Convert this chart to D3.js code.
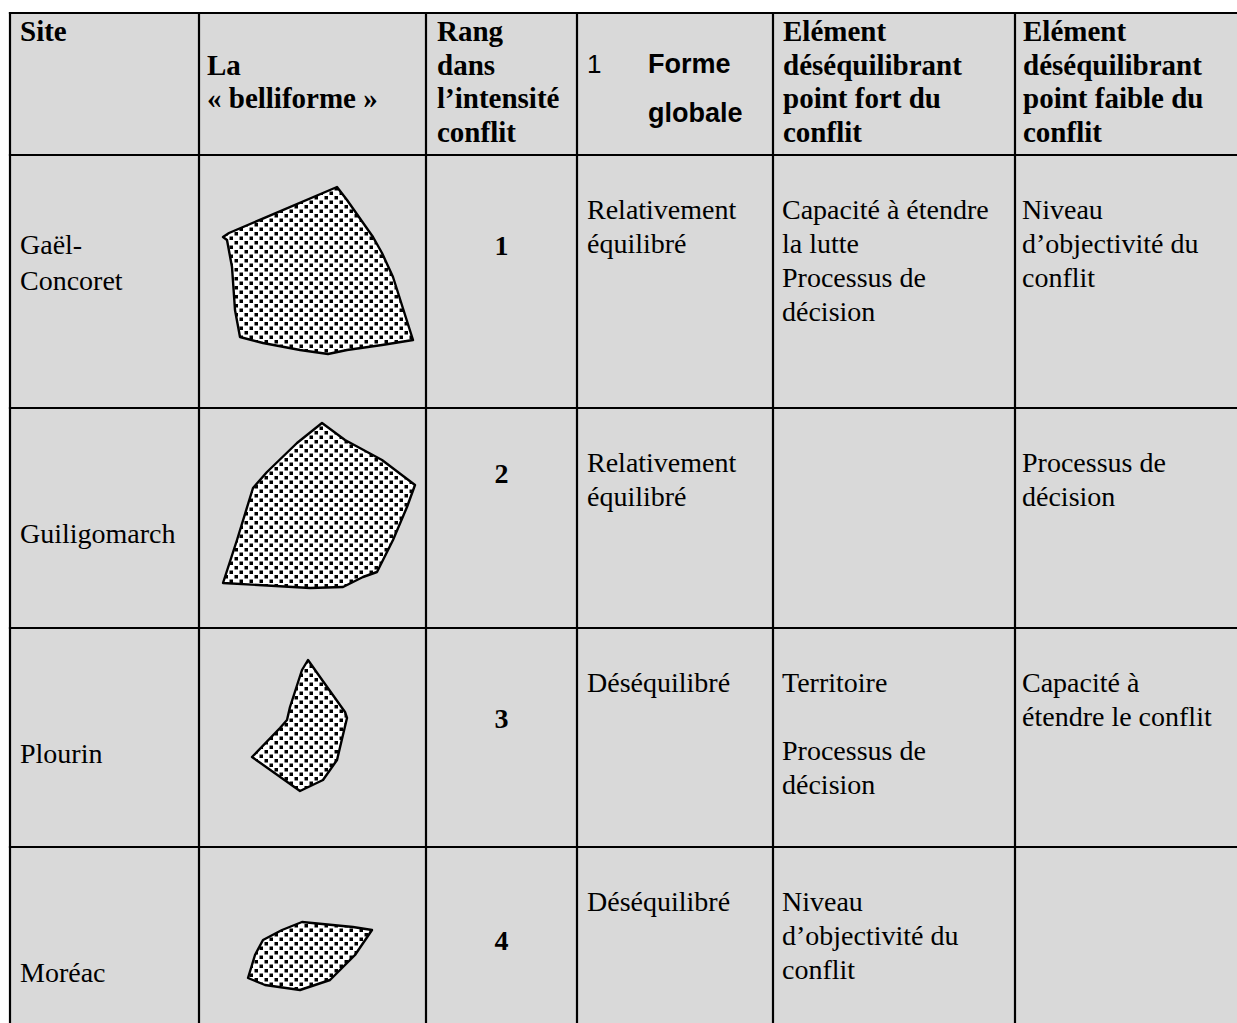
<!DOCTYPE html>
<html><head><meta charset="utf-8">
<script src="https://cdn.jsdelivr.net/npm/d3@7"></script>
<style>html,body{margin:0;padding:0;background:#fff;overflow:hidden}</style>
</head><body>
<script>
// ---- data ----
const headers = [
  ["Site"],
  ["", "La", "« belliforme »"],
  ["Rang", "dans", "l’intensité", "conflit"],
  null,
  ["Elément", "déséquilibrant", "point fort du", "conflit"],
  ["Elément", "déséquilibrant", "point faible du", "conflit"]
];
const formeHeaderNum = "1";
const formeHeader = ["Forme", "globale"];
const sites = [["Gaël-", "Concoret"], ["Guiligomarch"], ["Plourin"], ["Moréac"]];
const ranks = ["1", "2", "3", "4"];
const formes = [["Relativement", "équilibré"], ["Relativement", "équilibré"], ["Déséquilibré"], ["Déséquilibré"]];
const pointsForts = [["Capacité à étendre", "la lutte", "Processus de", "décision"], [], ["Territoire", "", "Processus de", "décision"], ["Niveau", "d’objectivité du", "conflit"]];
const pointsFaibles = [["Niveau", "d’objectivité du", "conflit"], ["Processus de", "décision"], ["Capacité à", "étendre le conflit"], []];
// belliforme outlines (cell-relative coordinates)
const shapes = [
  [[24,82],[30,78],[138,32],[148,45],[174,82],[183,98],[194,122],[214,185],[183,190],[148,195],[129,199],[101,195],[64,188],[41,182],[36,155],[33,112],[28,85]],
  [[123,15],[146,32],[183,52],[216,77],[208,99],[194,132],[178,164],[164,169],[144,179],[111,180],[24,175],[38,132],[54,80],[68,64],[98,35]],
  [[109,32],[121,49],[146,84],[148,90],[138,132],[124,152],[101,163],[53,129],[81,100],[88,92],[91,79],[103,42]],
  [[103,75],[154,80],[173,83],[156,108],[131,133],[101,143],[66,138],[49,131],[56,108],[64,93],[83,83]]
];

// ---- layout ----
const W = 1237, H = 1023;
const colX = [10, 199, 426, 577, 773, 1015, 1240];
const rowY = [13, 155, 408, 628, 847, 1040];
const rankDy = [100, 75, 100, 103];
const fs = 28, lh = 34;
const serif = "'Liberation Serif','Times New Roman',serif";
const sans = "'Liberation Sans',Arial,sans-serif";

const svg = d3.select("body").append("svg").attr("width", W).attr("height", H);
const defs = svg.append("defs");
const pat = defs.append("pattern").attr("id", "dots").attr("patternUnits", "userSpaceOnUse")
  .attr("width", 10).attr("height", 9);
pat.append("rect").attr("width", 10).attr("height", 9).attr("fill", "#fff");
pat.append("rect").attr("x", 0.5).attr("y", 0.5).attr("width", 3.5).attr("height", 3.5).attr("fill", "#000");
pat.append("rect").attr("x", 5.5).attr("y", 5).attr("width", 3.5).attr("height", 3.5).attr("fill", "#000");

const x = d3.scaleOrdinal().domain(d3.range(7)).range(colX);
const y = d3.scaleOrdinal().domain(d3.range(6)).range(rowY);

// background
svg.append("rect").attr("x", colX[0]).attr("y", rowY[0]).attr("width", W - colX[0] + 5).attr("height", H - rowY[0] + 5).attr("fill", "#d9d9d9");

function lines(g, arr, x0, y0, opts) {
  arr.forEach((t, i) => {
    if (!t) return;
    g.append("text").attr("x", x0).attr("y", y0 + i * (opts.lh || lh))
      .attr("font-family", opts.family || serif).attr("font-size", opts.size || fs)
      .attr("font-weight", opts.weight || "normal").attr("text-anchor", opts.anchor || "start")
      .attr("fill", "#000").text(t);
  });
}
const g = svg.append("g");
// headers
const hx = [20, 207, 437, null, 783, 1023];
headers.forEach((h, c) => { if (h) lines(g, h, hx[c], 41, {weight: "bold", size: 29, lh: 33.5}); });
lines(g, [formeHeaderNum], 587, 73, {family: sans, size: 26});
lines(g, formeHeader, 648, 73, {family: sans, weight: "bold", size: 27, lh: 49});

// rows
const line = d3.line().curve(d3.curveLinearClosed);
sites.forEach((s, r) => {
  const top = y(r + 1);
  lines(g, s, 20, top + 135 - (s.length - 1) * 36, {lh: 36});
  lines(g, [ranks[r]], (x(2) + x(3)) / 2, top + rankDy[r], {weight: "bold", anchor: "middle"});
  lines(g, formes[r], 587, top + 64, {});
  lines(g, pointsForts[r], 782, top + 64, {});
  lines(g, pointsFaibles[r], 1022, top + 64, {});
  g.append("path").attr("transform", `translate(${x(1)},${top})`).attr("d", line(shapes[r]))
    .attr("fill", "url(#dots)").attr("stroke", "#000").attr("stroke-width", 2.4).attr("stroke-linejoin", "round");
});

// grid
const grid = svg.append("g").attr("stroke", "#000").attr("stroke-width", 2.2);
colX.forEach(cx => grid.append("line").attr("x1", cx).attr("x2", cx).attr("y1", rowY[0] - 1.1).attr("y2", H + 5));
rowY.forEach(ry => grid.append("line").attr("x1", colX[0] - 1.1).attr("x2", W + 5).attr("y1", ry).attr("y2", ry));
</script>
</body></html>
